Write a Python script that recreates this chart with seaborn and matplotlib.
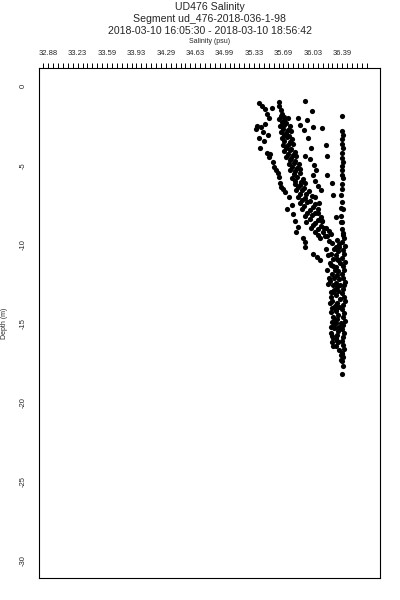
import numpy as np
import pandas as pd
import matplotlib
matplotlib.use("Agg")
import matplotlib.pyplot as plt
import seaborn as sns
from matplotlib.ticker import FixedLocator

# Tick labels as printed on the chart
SAL_TICK_LABELS = ["32.88", "33.23", "33.59", "33.93", "34.29", "34.63",
                   "34.99", "35.33", "35.69", "36.03", "36.39"]
DEPTH_TICKS = [0, -5, -10, -15, -20, -25, -30]

# Left (fresher) profile
left_sal = [35.39, 35.43, 35.47, 35.49, 35.52, 35.55, 35.37, 35.42, 35.47, 35.44,
            35.50, 35.40, 35.36, 35.41, 35.49, 35.52, 35.56, 35.58, 35.62, 35.63,
            35.65, 35.66, 35.71, 35.75, 35.79, 35.80, 35.83, 35.84, 35.92, 35.95,
            35.95, 36.09, 36.12, 35.46, 35.53, 35.60, 35.68, 35.73, 35.86, 36.04]
left_depth = [-1.1, -1.25, -1.45, -1.75, -2.0, -1.4, -2.5, -2.6, -2.4, -2.9,
              -3.1, -3.3, -2.7, -3.9, -4.2, -4.5, -4.8, -5.1, -5.5, -5.75,
              -6.1, -6.35, -6.7, -7.0, -7.5, -8.1, -8.5, -9.2, -9.6, -9.85,
              -10.2, -10.8, -11.0, -3.5, -4.3, -5.3, -6.5, -7.8, -8.9, -10.6]

# Main band (densest set of casts)
main_sal = [35.63, 35.64, 35.66, 35.67,
            35.66, 35.69,
            35.64, 35.69, 35.74,
            35.67, 35.72,
            35.65, 35.70, 35.76,
            35.68, 35.74,
            35.66, 35.72, 35.78,
            35.69, 35.75,
            35.67, 35.73, 35.79,
            35.70, 35.77,
            35.68, 35.74, 35.80,
            35.72, 35.78,
            35.70, 35.76, 35.82,
            35.74, 35.80,
            35.72, 35.78, 35.84,
            35.76, 35.83,
            35.75, 35.81, 35.87,
            35.79, 35.85,
            35.77, 35.83, 35.89,
            35.81, 35.88,
            35.79, 35.85, 35.92,
            35.83, 35.90,
            35.82, 35.88, 35.95,
            35.86, 35.93,
            35.84, 35.91, 35.99,
            35.88, 35.96,
            35.86, 35.94, 36.03,
            35.91, 36.00,
            35.88, 35.97, 36.07,
            35.93, 36.04,
            35.91, 36.00, 36.10,
            35.97, 36.07,
            35.94, 36.03, 36.13,
            36.00, 36.10,
            35.96, 36.06, 36.15,
            36.04, 36.14,
            36.02, 36.10, 36.19,
            36.07, 36.16, 36.23,
            36.10, 36.18, 36.26]
main_depth = [-1.0, -1.25, -1.5, -1.75,
              -1.9, -1.95,
              -2.1, -2.15, -2.05,
              -2.3, -2.35,
              -2.5, -2.45, -2.55,
              -2.7, -2.75,
              -2.9, -2.95, -2.85,
              -3.1, -3.15,
              -3.3, -3.25, -3.35,
              -3.5, -3.55,
              -3.7, -3.75, -3.65,
              -3.9, -3.95,
              -4.1, -4.05, -4.15,
              -4.3, -4.35,
              -4.5, -4.55, -4.45,
              -4.7, -4.75,
              -4.9, -4.85, -4.95,
              -5.1, -5.15,
              -5.3, -5.35, -5.25,
              -5.55, -5.5,
              -5.8, -5.75, -5.85,
              -6.0, -6.05,
              -6.2, -6.25, -6.15,
              -6.4, -6.45,
              -6.6, -6.55, -6.65,
              -6.8, -6.85,
              -7.0, -7.05, -6.95,
              -7.2, -7.25,
              -7.4, -7.35, -7.45,
              -7.6, -7.65,
              -7.8, -7.85, -7.75,
              -8.0, -8.05,
              -8.2, -8.15, -8.25,
              -8.4, -8.45,
              -8.6, -8.65, -8.55,
              -8.8, -8.85,
              -9.0, -9.05, -8.95,
              -9.2, -9.25, -9.15,
              -9.4, -9.45, -9.35]

# Right-of-main profile
mid_sal = [35.95, 36.03, 35.86, 35.97, 36.04, 35.89, 35.93, 36.15, 35.98, 36.02,
           36.19, 35.95, 36.00, 36.05, 36.08, 36.04, 36.07, 36.21, 36.21, 36.10,
           36.13, 36.27, 36.28, 36.06, 36.11, 36.37, 36.10, 36.15, 36.31, 36.37,
           36.17, 36.12]
mid_depth = [-0.95, -1.6, -2.0, -2.15, -2.6, -2.45, -2.8, -2.65, -3.3, -3.9,
             -3.7, -4.4, -4.6, -5.0, -5.3, -5.6, -6.0, -4.4, -5.6, -6.3,
             -6.6, -6.1, -6.9, -7.0, -7.4, -7.7, -8.0, -8.5, -8.3, -8.6,
             -9.0, -9.6]

# Right column of isolated points near 36.39
edge_sal = [36.39, 36.39, 36.40, 36.39, 36.39, 36.40, 36.39, 36.39, 36.40, 36.39,
            36.39, 36.39, 36.40, 36.39, 36.39, 36.38, 36.39, 36.40, 36.38, 36.39, 36.39]
edge_depth = [-1.9, -2.85, -3.1, -3.37, -3.65, -3.94, -4.2, -4.54, -4.79, -5.06,
              -5.32, -5.59, -5.84, -6.16, -6.52, -6.9, -7.32, -7.74, -8.2, -8.59, -9.01]

# Deep mixed layer, several casts stacked
deep_sal = [36.40, 36.41, 36.39, 36.42, 36.40, 36.41, 36.39, 36.42, 36.40, 36.41,
            36.39, 36.40, 36.42, 36.41, 36.40, 36.39, 36.41, 36.42, 36.40, 36.39,
            36.41, 36.40, 36.42, 36.40, 36.39, 36.41, 36.40, 36.39, 36.40, 36.41,
            36.39, 36.40, 36.39, 36.40, 36.39,
            36.33, 36.35, 36.32, 36.34, 36.31, 36.33, 36.36, 36.32, 36.34, 36.33,
            36.35, 36.31, 36.33, 36.34, 36.32, 36.36, 36.33, 36.35, 36.31, 36.34,
            36.33, 36.32, 36.35, 36.34, 36.33, 36.31, 36.34, 36.32, 36.35, 36.33,
            36.34, 36.32, 36.36, 36.34, 36.35,
            36.27, 36.29, 36.25, 36.28, 36.26, 36.30, 36.27, 36.24, 36.28, 36.29,
            36.26, 36.27, 36.30, 36.25, 36.28, 36.27, 36.29, 36.26, 36.28, 36.27,
            36.29, 36.28, 36.27, 36.30, 36.29, 36.28,
            36.21, 36.23, 36.20, 36.22, 36.24, 36.21, 36.23, 36.22, 36.25, 36.24,
            36.26, 36.27, 36.28, 36.38, 36.37, 36.39, 36.40, 36.38]
deep_depth = [-9.3, -9.6, -9.85, -10.1, -10.35, -10.6, -10.85, -11.1, -11.35, -11.6,
              -11.85, -12.1, -12.35, -12.6, -12.85, -13.1, -13.35, -13.6, -13.85, -14.1,
              -14.35, -14.6, -14.85, -15.1, -15.35, -15.6, -15.85, -16.1, -16.35, -16.6,
              -16.85, -17.1, -17.35, -17.7, -18.2,
              -9.7, -9.95, -10.2, -10.45, -10.7, -10.95, -11.2, -11.45, -11.7, -11.95,
              -12.2, -12.45, -12.7, -12.95, -13.2, -13.45, -13.7, -13.95, -14.2, -14.45,
              -14.7, -14.95, -15.2, -15.45, -15.7, -15.95, -16.2, -16.45, -16.7, -16.1,
              -15.3, -14.1, -12.6, -11.0, -10.2,
              -9.9, -10.3, -10.6, -10.9, -11.3, -11.6, -11.9, -12.3, -12.6, -12.9,
              -13.3, -13.6, -13.9, -14.3, -14.6, -14.9, -15.3, -15.6, -15.9, -16.2,
              -12.1, -13.0, -14.0, -14.8, -15.1, -11.4,
              -9.5, -9.8, -10.3, -10.7, -11.2, -11.6, -12.1, -12.5, -13.0, -13.7,
              -15.2, -15.8, -16.4, -17.0, -17.3, -16.9, -9.4, -15.0]

frames = []
for name, s, d in [("left", left_sal, left_depth), ("main", main_sal, main_depth),
                   ("mid", mid_sal, mid_depth), ("edge", edge_sal, edge_depth),
                   ("deep", deep_sal, deep_depth)]:
    frames.append(pd.DataFrame({"salinity": s, "depth": d, "group": name}))
df = pd.concat(frames, ignore_index=True)

sns.set_style("white")
plt.rcParams["font.family"] = ["Liberation Sans", "DejaVu Sans"]

fig = plt.figure(figsize=(4, 6), dpi=100)
ax = fig.add_axes([0.0975, 0.0367, 0.8525, 0.85])

sns.scatterplot(data=df, x="salinity", y="depth", color="black", marker="o",
                s=14, linewidth=0, legend=False, ax=ax)

ax.set_xlim(32.77, 36.84)
ax.set_ylim(-31.08, 1.14)

# Salinity axis on top
ax.xaxis.tick_top()
ax.xaxis.set_label_position("top")
ax.set_xticks(np.linspace(32.88, 36.39, len(SAL_TICK_LABELS)))
ax.set_xticklabels(SAL_TICK_LABELS, fontsize=5.5)
ax.xaxis.set_minor_locator(FixedLocator(np.arange(32.8215, 36.70, 0.0585)))
ax.tick_params(axis="x", which="both", direction="out", length=3.6, width=0.7,
               color="black", pad=4, top=True, bottom=False)
ax.set_xlabel("Salinity (psu)", fontsize=5, labelpad=5)

ax.set_yticks(DEPTH_TICKS)
ax.set_yticklabels([str(t) for t in DEPTH_TICKS], fontsize=5.5, rotation=90, va="center")
ax.tick_params(axis="y", length=0, pad=9)
ax.set_ylabel("Depth (m)", fontsize=5, labelpad=8)

for sp in ax.spines.values():
    sp.set_visible(True)
    sp.set_color("black")
    sp.set_linewidth(0.8)

fig.text(0.524, 0.996, "UD476 Salinity", ha="center", va="top", fontsize=7.6)
fig.text(0.524, 0.976, "Segment ud_476-2018-036-1-98", ha="center", va="top", fontsize=7.6)
fig.text(0.524, 0.957, "2018-03-10 16:05:30 - 2018-03-10 18:56:42", ha="center", va="top", fontsize=7.6)

fig.savefig("out.png", dpi=100)
